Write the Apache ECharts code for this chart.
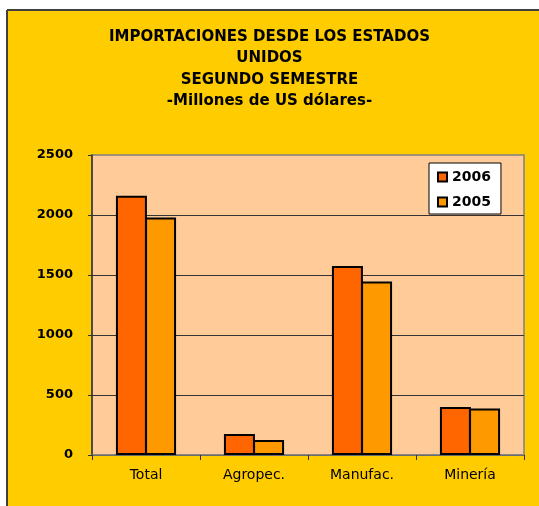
<!DOCTYPE html>
<html>
<head>
<meta charset="utf-8">
<script src="https://cdn.jsdelivr.net/npm/echarts@6/dist/echarts.min.js"></script>
<style>
  html, body { margin: 0; padding: 0; background: #fff; }
  #main { width: 539px; height: 506px; }
</style>
</head>
<body>
<div id="main"></div>
<script>
var categories = ['Total', 'Agropec.', 'Manufac.', 'Minería'];
var serie2006 = [2160, 175, 1575, 400];
var serie2005 = [1980, 125, 1445, 388];
var yTicks = [0, 500, 1000, 1500, 2000, 2500];

var myChart = echarts.init(document.getElementById('main'));

var option = {
    backgroundColor: '#ffffff',
    animation: false,
    graphic: [
        {
            type: 'rect',
            z: -100,
            shape: { x: 7, y: 10, width: 540, height: 500 },
            style: { fill: '#FFCC00' }
        },
        {
            type: 'line',
            z: -90,
            shape: { x1: 7, y1: 10, x2: 545, y2: 10 },
            style: { stroke: '#404040', lineWidth: 2 }
        },
        {
            type: 'line',
            z: -90,
            shape: { x1: 7, y1: 10, x2: 7, y2: 510 },
            style: { stroke: '#404040', lineWidth: 2 }
        }
    ],
    title: {
        text: 'IMPORTACIONES DESDE LOS ESTADOS\nUNIDOS\nSEGUNDO SEMESTRE\n-Millones de US dólares-',
        left: 'center',
        top: 21,
        textStyle: {
            fontFamily: 'DejaVu Sans',
            fontWeight: 'bold',
            fontSize: 15,
            lineHeight: 21.5,
            color: '#000'
        }
    },
    legend: {
        data: ['2006', '2005'],
        orient: 'vertical',
        left: 429,
        top: 163,
        icon: 'rect',
        itemWidth: 9,
        itemHeight: 9,
        itemGap: 11,
        padding: [7, 10, 5, 8],
        backgroundColor: '#ffffff',
        borderColor: '#000',
        borderWidth: 1,
        textStyle: {
            fontFamily: 'DejaVu Sans',
            fontWeight: 'bold',
            fontSize: 14,
            color: '#000'
        }
    },
    grid: {
        left: 92,
        right: 15,
        top: 155,
        bottom: 51,
        show: true,
        backgroundColor: '#FFCC99',
        borderColor: '#808080',
        borderWidth: 1.5
    },
    xAxis: {
        type: 'category',
        data: categories,
        axisLine: { lineStyle: { color: '#808080', width: 1.5 } },
        axisTick: { show: true, length: 5, lineStyle: { color: '#333' } },
        axisLabel: {
            margin: 13,
            fontFamily: 'DejaVu Sans',
            fontSize: 14,
            color: '#000'
        }
    },
    yAxis: {
        type: 'value',
        min: yTicks[0],
        max: yTicks[yTicks.length - 1],
        interval: 500,
        axisLine: { show: true, lineStyle: { color: '#333', width: 1.5 } },
        axisTick: { show: true, length: 4, lineStyle: { color: '#333' } },
        axisLabel: {
            margin: 19,
            fontFamily: 'DejaVu Sans',
            fontWeight: 'bold',
            fontSize: 13,
            color: '#000',
            formatter: function (v) { return String(v); }
        },
        splitLine: {
            show: true,
            showMaxLine: false,
            lineStyle: { color: '#333', width: 1 }
        }
    },
    series: [
        {
            name: '2006',
            type: 'bar',
            data: serie2006,
            barWidth: 31,
            barGap: '-6%',
            itemStyle: { color: '#FF6600', borderColor: '#000', borderWidth: 2 }
        },
        {
            name: '2005',
            type: 'bar',
            data: serie2005,
            barWidth: 31,
            barGap: '-6%',
            itemStyle: { color: '#FF9900', borderColor: '#000', borderWidth: 2 }
        }
    ]
};

myChart.setOption(option);
</script>
</body>
</html>
